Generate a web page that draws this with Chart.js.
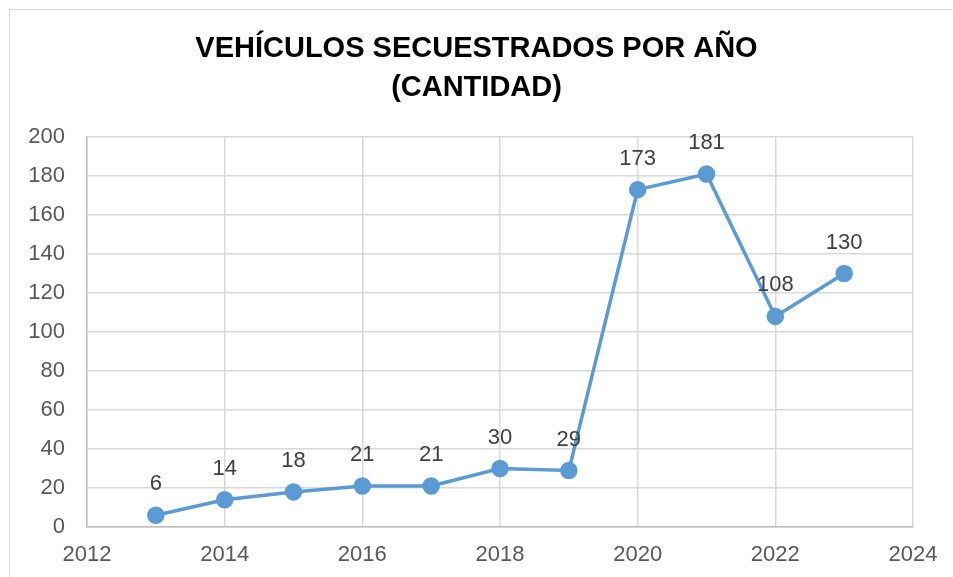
<!DOCTYPE html>
<html>
<head>
<meta charset="utf-8">
<script src="https://cdn.jsdelivr.net/npm/chart.js@4"></script>
<style>
  html, body { margin: 0; padding: 0; background: #fff; }
  #wrap { position: absolute; left: 0; top: 0; width: 953px; height: 577px; }
  #frame { position: absolute; left: 9px; top: 9px; width: 960px; height: 600px; border: 1px solid #d9d9d9; box-sizing: border-box; }
</style>
</head>
<body>
<div id="frame"></div>
<div id="wrap"><canvas id="vehChart" width="953" height="577"></canvas></div>
<script>
const years = [2013, 2014, 2015, 2016, 2017, 2018, 2019, 2020, 2021, 2022, 2023];
const secuestrados = [6, 14, 18, 21, 21, 30, 29, 173, 181, 108, 130];
const titleLines = ['VEHÍCULOS SECUESTRADOS POR AÑO', '(CANTIDAD)'];

const FONT = '"Liberation Sans", Arial, sans-serif';

// draw the value above each point
const valueLabels = {
    id: 'valueLabels',
    afterDatasetsDraw(chart) {
        const ctx = chart.ctx;
        const meta = chart.getDatasetMeta(0);
        ctx.save();
        ctx.font = '22px ' + FONT;
        ctx.fillStyle = '#404040';
        ctx.textAlign = 'center';
        ctx.textBaseline = 'middle';
        meta.data.forEach((pt, i) => {
            ctx.fillText(String(secuestrados[i]), pt.x, pt.y - 31);
        });
        ctx.restore();
    }
};

const ctx = document.getElementById('vehChart');
new Chart(ctx, {
    type: 'line',
    data: {
        datasets: [{
            label: 'Vehículos secuestrados',
            data: years.map((y, i) => ({ x: y, y: secuestrados[i] })),
            borderColor: '#5B9BD5',
            backgroundColor: '#5B9BD5',
            borderWidth: 3.5,
            pointRadius: 7,
            pointHoverRadius: 7,
            tension: 0
        }]
    },
    options: {
        responsive: false,
        animation: false,
        layout: { padding: 0 },
        plugins: {
            legend: { display: false },
            tooltip: { enabled: false },
            title: {
                display: true,
                text: titleLines,
                color: '#000000',
                font: { family: FONT, size: 29, weight: 'bold', lineHeight: 1.345 },
                padding: { top: 29, bottom: 30 }
            }
        },
        scales: {
            x: {
                type: 'linear',
                min: 2012,
                max: 2024,
                ticks: {
                    stepSize: 2,
                    color: '#595959',
                    font: { family: FONT, size: 22 },
                    padding: 15,
                    callback: v => String(v)
                },
                grid: { color: '#d9d9d9', lineWidth: 1.5, drawTicks: false },
                border: { color: '#bfbfbf', width: 1.5 },
                afterFit: s => { s.height = 50; }
            },
            y: {
                min: 0,
                max: 200,
                ticks: {
                    stepSize: 20,
                    color: '#595959',
                    font: { family: FONT, size: 22 },
                    padding: 22
                },
                grid: { color: '#d9d9d9', lineWidth: 1.5, drawTicks: false },
                border: { color: '#bfbfbf', width: 1.5 },
                afterFit: s => { s.width = 87; }
            },
            // empty axis on the right, only keeps space free like the original
            spacer: {
                type: 'linear',
                position: 'right',
                ticks: { display: false },
                grid: { display: false, drawTicks: false },
                border: { display: false },
                afterFit: s => { s.width = 40; }
            }
        }
    },
    plugins: [valueLabels]
});
</script>
</body>
</html>
